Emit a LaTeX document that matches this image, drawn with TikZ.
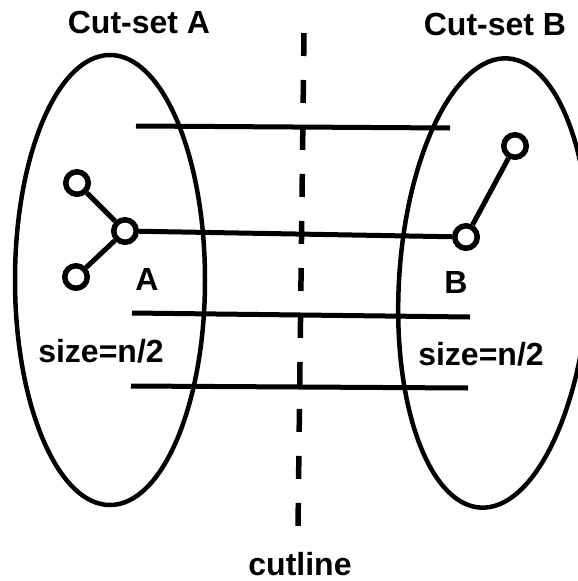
\documentclass[tikz,border=0pt]{standalone}
\usepackage{fontspec}
\setmainfont{Liberation Sans}
\usetikzlibrary{shapes.geometric}

\begin{document}
\begin{tikzpicture}[x=1pt, y=-1pt,
    vertice/.style={circle, draw, fill=white, line width=5.5pt, minimum size=22.5pt, inner sep=0pt},
    arista/.style={line width=5pt},
    conjunto/.style={ellipse, draw, line width=4.5pt, minimum width=190pt, minimum height=450pt, inner sep=0pt},
    rotulo/.style={font=\fontsize{32}{38}\selectfont\bfseries, anchor=base, inner sep=0pt}]
    \useasboundingbox (0,0) rectangle (578,581);

    % Conjuntos de corte
    \node[conjunto] (setA) at (110,280) {};
    \node[conjunto, rotate=-3.5] (setB) at (494,283) {};

    % Linea de corte (discontinua)
    \coordinate (cutTop) at (304,33);
    \coordinate (cutBot) at (298,528);
    \draw[line width=5.5pt, dash pattern=on 23pt off 24pt] (cutTop) -- (cutBot);

    % Aristas que cruzan el corte
    \coordinate (e1a) at (136,126); \coordinate (e1b) at (450,128);
    \coordinate (e3a) at (132,313); \coordinate (e3b) at (470,317);
    \coordinate (e4a) at (131,386); \coordinate (e4b) at (468,388);
    \draw[arista] (e1a) -- (e1b);
    \draw[arista] (e3a) -- (e3b);
    \draw[arista] (e4a) -- (e4b);

    % Vertices
    \node[vertice] (a1) at (77,183) {};
    \node[vertice] (a2) at (76,277) {};
    \node[vertice] (A) at (125,231) {};
    \node[vertice] (B) at (466,237) {};
    \node[vertice] (b1) at (515,146) {};

    % Aristas entre vertices
    \draw[arista] (a1) -- (A);
    \draw[arista] (a2) -- (A);
    \draw[arista] (A) -- (B);
    \draw[arista] (B) -- (b1);

    % Rotulos
    \node[rotulo] (labSetA) at (139,33) {Cut-set A};
    \node[rotulo] (labSetB) at (495,35) {Cut-set B};
    \node[rotulo] (labA) at (147,290) {A};
    \node[rotulo] (labB) at (456,293) {B};
    \node[rotulo] (sizeA) at (101,362) {size=n/2};
    \node[rotulo] (sizeB) at (481,365) {size=n/2};
    \node[rotulo] (labCut) at (300,575) {cutline};
\end{tikzpicture}
\end{document}
